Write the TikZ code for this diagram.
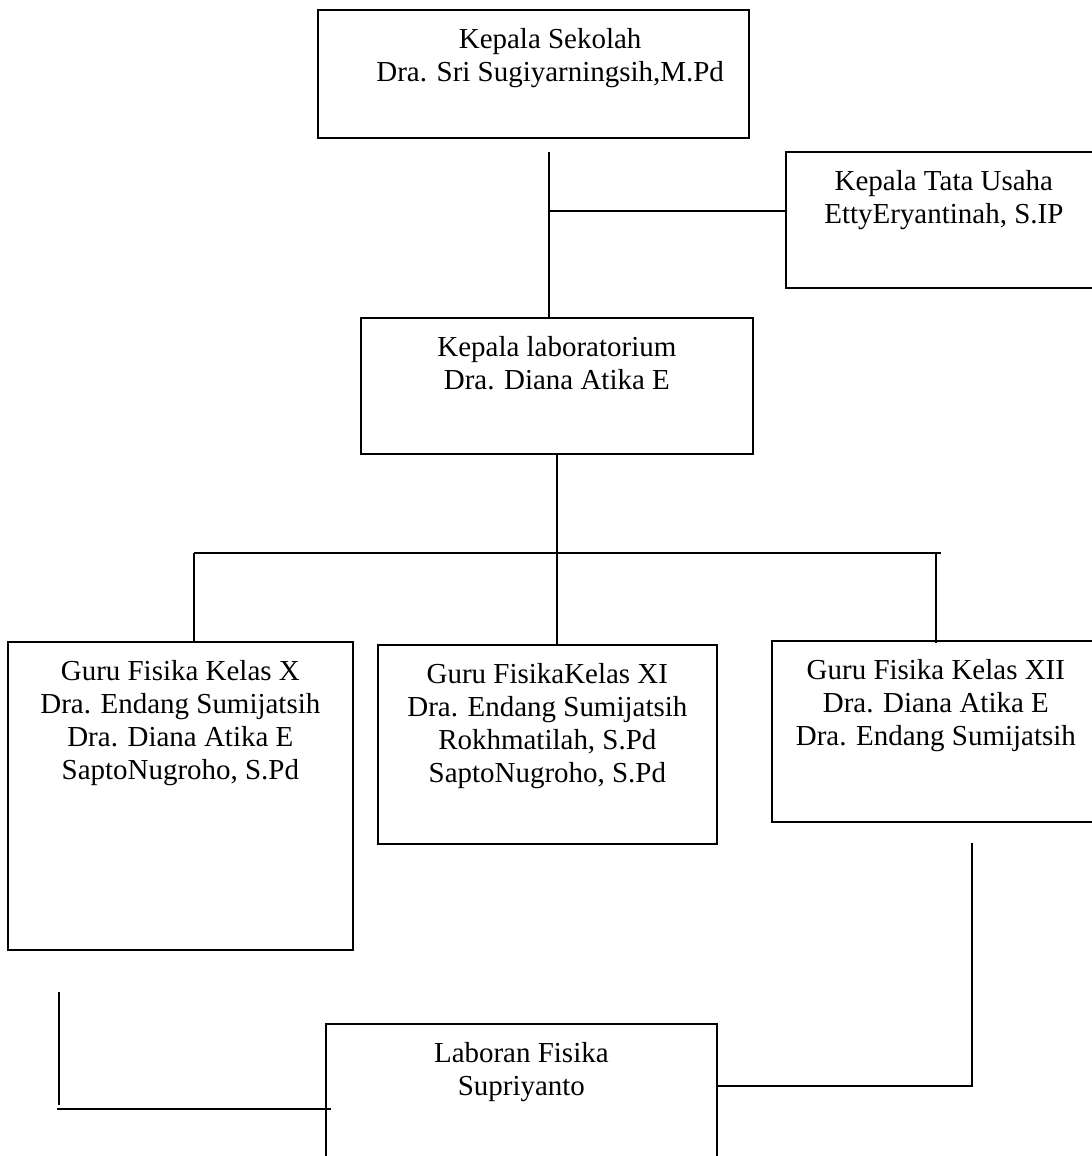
\documentclass[tikz,border=0pt]{standalone}
\usepackage{fontspec}
\setmainfont{Liberation Serif}
\usetikzlibrary{positioning}
\begin{document}
\begin{tikzpicture}[x=0.025cm,y=-0.025cm,line width=1.2pt,font=\fontsize{20.6}{23.5}\selectfont]
	\def\u{0.025cm}
	\tikzset{kotak/.style 2 args={draw,anchor=north west,inner sep=0pt,minimum width=#1*\u,minimum height=#2*\u},
		isi/.style={align=center,inner sep=0pt,anchor=north}}
	\useasboundingbox (0,0) rectangle (1091,1156);
	% kotak
	\node[kotak={431}{128}] (ks) at (317,9) {};
	\node[kotak={316}{136}] (tu) at (785,151) {};
	\node[kotak={392}{136}] (lab) at (360,317) {};
	\node[kotak={345}{308}] (g10) at (7,641) {};
	\node[kotak={339}{199}] (g11) at (377,644) {};
	\node[kotak={328}{181}] (g12) at (771,640) {};
	\node[kotak={391}{137}] (lb) at (325,1023) {};
	% teks
	\node[isi,below=0.46cm of ks.north,xshift=0.42cm] (ksT) {Kepala Sekolah\\Dra. Sri Sugiyarningsih,M.Pd};
	\node[isi,below=0.46cm of tu.north] (tuT) {Kepala Tata Usaha\\EttyEryantinah, S.IP};
	\node[isi,below=0.46cm of lab.north] (labT) {Kepala laboratorium\\Dra. Diana Atika E};
	\node[isi,below=0.46cm of g10.north] (g10T) {Guru Fisika Kelas X\\Dra. Endang Sumijatsih\\Dra. Diana Atika E\\SaptoNugroho, S.Pd};
	\node[isi,below=0.46cm of g11.north] (g11T) {Guru FisikaKelas XI\\Dra. Endang Sumijatsih\\Rokhmatilah, S.Pd\\SaptoNugroho, S.Pd};
	\node[isi,below=0.46cm of g12.north] (g12T) {Guru Fisika Kelas XII\\Dra. Diana Atika E\\Dra. Endang Sumijatsih};
	\node[isi,below=0.46cm of lb.north] (lbT) {Laboran Fisika\\Supriyanto};
	% garis
	\coordinate (a) at (549,152);
	\coordinate (b) at (549,211);
	\draw (a) -- (a |- lab.north);
	\draw (b) -- (b -| tu.west);
	\draw (lab.south) -- (lab.south |- g11.north);
	\coordinate (busL) at (194,553);
	\coordinate (busR) at (941,553);
	\draw (busL) -- (busR);
	\draw (busL) -- (busL |- g10.north);
	\coordinate (c) at (936,553);
	\draw (c) -- ++(0,90);
	\coordinate (e) at (972,843);
	\coordinate (e2) at (972,1086);
	\draw (e) -- (e2) -- (e2 -| lb.east);
	\coordinate (f) at (59,992);
	\coordinate (f2) at (57,1109);
	\draw (f) -- ++(0,113);
	\draw (f2) -- ++(274,0);
\end{tikzpicture}
\end{document}
